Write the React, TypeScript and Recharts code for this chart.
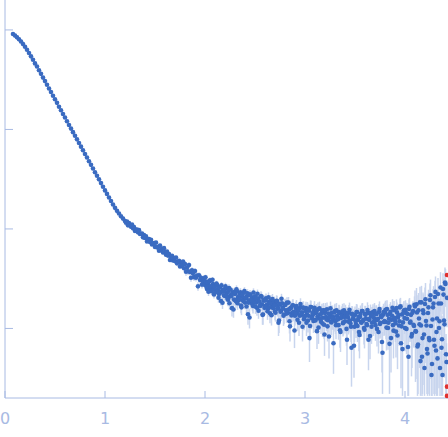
import { ScatterChart, Scatter, XAxis, YAxis, ErrorBar } from "recharts";

// scattering vector q (nm^-1) and intensity (x 1e-3, arbitrary units)
const qLow = [
  0.08, 0.1, 0.12, 0.14, 0.16, 0.18, 0.2, 0.22, 0.24, 0.26, 0.28, 0.3,
  0.32, 0.34, 0.36, 0.38, 0.4, 0.42, 0.44, 0.46, 0.48, 0.5,
  0.52, 0.54, 0.56, 0.58, 0.6, 0.62, 0.64, 0.66, 0.68, 0.7,
  0.72, 0.74, 0.76, 0.78, 0.8, 0.82, 0.84, 0.86, 0.88, 0.9,
  0.92, 0.94, 0.96, 0.98, 1, 1.02, 1.04, 1.06, 1.08, 1.1,
  1.12, 1.14, 1.16, 1.18,
];
const iLow = [
  912, 880, 845, 806, 766, 723, 678, 632, 587, 543, 501, 461,
  429, 394, 362, 332, 306, 281, 258, 238, 218, 201,
  185, 169, 156, 143, 132, 121, 111, 102, 94, 86.5,
  79.5, 73, 67.2, 61.7, 56.7, 52.2, 47.9, 44.1, 40.5, 37.2,
  34.2, 31.5, 28.9, 26.6, 24.4, 22.5, 20.7, 19.1, 17.6, 16.3,
  15.2, 14.3, 13.4, 12.7,
];
const eLow = [
  3.6, 3.5, 3.4, 3.2, 3.1, 2.9, 2.7, 2.5, 2.3, 2.2, 2.0, 1.8,
  1.7, 1.6, 1.4, 1.3, 1.2, 1.1, 1.0, 0.95, 0.87, 0.8,
  0.74, 0.68, 0.62, 0.57, 0.53, 0.49, 0.45, 0.42, 0.38, 0.35,
  0.33, 0.3, 0.28, 0.26, 0.24, 0.23, 0.21, 0.2, 0.19, 0.18,
  0.17, 0.16, 0.15, 0.15, 0.14, 0.14, 0.13, 0.13, 0.13, 0.12,
  0.12, 0.12, 0.12, 0.12,
];

const qTail = [
  1.2, 1.21, 1.22, 1.23, 1.24, 1.25, 1.26, 1.27, 1.28, 1.29,
  1.3, 1.31, 1.32, 1.33, 1.34, 1.35, 1.36, 1.37, 1.38, 1.39,
  1.4, 1.41, 1.42, 1.43, 1.44, 1.45, 1.46, 1.47, 1.48, 1.49,
  1.5, 1.51, 1.52, 1.53, 1.54, 1.55, 1.56, 1.57, 1.58, 1.59,
  1.6, 1.61, 1.62, 1.63, 1.64, 1.65, 1.66, 1.67, 1.68, 1.69,
  1.7, 1.71, 1.72, 1.73, 1.74, 1.75, 1.76, 1.77, 1.78, 1.79,
  1.8, 1.81, 1.82, 1.83, 1.84, 1.85, 1.86, 1.87, 1.88, 1.89,
  1.9, 1.91, 1.92, 1.93, 1.94, 1.95, 1.96, 1.97, 1.98, 1.99,
  2.0, 2.01, 2.02, 2.03, 2.04, 2.05, 2.06, 2.07, 2.08, 2.09,
  2.1, 2.11, 2.12, 2.13, 2.14, 2.15, 2.16, 2.17, 2.18, 2.19,
  2.2, 2.21, 2.22, 2.23, 2.24, 2.25, 2.26, 2.27, 2.28, 2.29,
  2.3, 2.31, 2.32, 2.33, 2.34, 2.35, 2.36, 2.37, 2.38, 2.39,
  2.4, 2.41, 2.42, 2.43, 2.44, 2.45, 2.46, 2.47, 2.48, 2.49,
  2.5, 2.51, 2.52, 2.53, 2.54, 2.55, 2.56, 2.57, 2.58, 2.59,
  2.6, 2.61, 2.62, 2.63, 2.64, 2.65, 2.66, 2.67, 2.68, 2.69,
  2.7, 2.71, 2.72, 2.73, 2.74, 2.75, 2.76, 2.77, 2.78, 2.79,
  2.8, 2.81, 2.82, 2.83, 2.84, 2.85, 2.86, 2.87, 2.88, 2.89,
  2.9, 2.91, 2.92, 2.93, 2.94, 2.95, 2.96, 2.97, 2.98, 2.99,
  3.0, 3.01, 3.02, 3.03, 3.04, 3.05, 3.06, 3.07, 3.08, 3.09,
  3.1, 3.11, 3.12, 3.13, 3.14, 3.15, 3.16, 3.17, 3.18, 3.19,
  3.2, 3.21, 3.22, 3.23, 3.24, 3.25, 3.26, 3.27, 3.28, 3.29,
  3.3, 3.31, 3.32, 3.33, 3.34, 3.35, 3.36, 3.37, 3.38, 3.39,
  3.4, 3.41, 3.42, 3.43, 3.44, 3.45, 3.46, 3.47, 3.48, 3.49,
  3.5, 3.51, 3.52, 3.53, 3.54, 3.55, 3.56, 3.57, 3.58, 3.59,
  3.6, 3.61, 3.62, 3.63, 3.64, 3.65, 3.66, 3.67, 3.68, 3.69,
  3.7, 3.71, 3.72, 3.73, 3.74, 3.75, 3.76, 3.77, 3.78, 3.79,
  3.8, 3.81, 3.82, 3.83, 3.84, 3.85, 3.86, 3.87, 3.88, 3.89,
  3.9, 3.91, 3.92, 3.93, 3.94, 3.95, 3.96, 3.97, 3.98, 3.99,
  4.0, 4.01, 4.02, 4.03, 4.04, 4.05, 4.06, 4.07, 4.08, 4.09,
  4.1, 4.11, 4.12, 4.13, 4.14, 4.15, 4.16, 4.17, 4.18, 4.19,
  4.2, 4.21, 4.22, 4.23, 4.24, 4.25, 4.26, 4.27, 4.28, 4.29,
  4.3, 4.31, 4.32, 4.33, 4.34, 4.35, 4.36, 4.37, 4.38, 4.39,
  4.4, 4.41, 4.42,
];
const iTail = [
  12.04, 11.54, 11.87, 10.87, 11.44, 10.97, 10.52, 11.07, 10.14, 10.42,
  9.55, 9.82, 9.86, 9.24, 9.73, 8.91, 8.95, 9.0, 8.23, 8.66,
  8.12, 8.42, 7.47, 7.86, 7.9, 7.4, 7.79, 6.97, 7.17, 7.2,
  6.59, 7.28, 6.53, 6.57, 6.04, 6.83, 6.12, 6.31, 5.79, 6.41,
  5.87, 5.5, 5.93, 5.4, 5.58, 4.88, 5.25, 5.38, 4.83, 5.09,
  4.77, 5.16, 4.51, 4.65, 4.78, 4.2, 4.53, 4.26, 4.71, 4.03,
  4.45, 3.71, 4.09, 3.76, 4.33, 3.7, 3.23, 3.83, 3.58, 3.28,
  3.78, 3.23, 3.4, 2.65, 3.43, 3.07, 3.23, 2.76, 2.97, 3.2,
  2.74, 2.96, 2.49, 2.83, 2.67, 3.04, 2.49, 2.64, 2.8, 2.2,
  2.67, 2.41, 2.74, 2.41, 2.22, 2.58, 1.89, 2.35, 2.44, 2.15,
  2.49, 2.11, 2.3, 1.94, 2.54, 2.1, 2.18, 1.6, 2.31, 1.95,
  2.22, 1.88, 2.35, 2.04, 1.93, 2.26, 1.7, 2.09, 1.93, 2.31,
  1.82, 2.01, 2.12, 1.39, 1.92, 2.2, 1.82, 2.03, 1.68, 1.97,
  2.1, 1.81, 1.61, 2.01, 1.87, 1.69, 2.12, 1.75, 1.38, 1.9,
  1.68, 2.01, 1.74, 1.58, 1.85, 1.42, 1.91, 1.73, 1.61, 1.84,
  1.48, 1.73, 1.89, 1.6, 1.2, 1.73, 1.5, 1.79, 1.59, 1.38,
  1.72, 1.52, 1.82, 1.43, 1.56, 1.05, 1.61, 1.43, 1.71, 1.47,
  1.34, 1.6, 1.42, 1.51, 1.14, 1.61, 1.36, 1.45, 1.62, 1.24,
  1.34, 1.6, 1.39, 1.2, 1.51, 1.06, 1.64, 1.32, 1.38, 1.51,
  1.22, 1.43, 0.94, 1.56, 1.26, 1.38, 1.17, 1.51, 1.28, 1.09,
  1.43, 1.3, 1.56, 1.21, 0.83, 1.38, 1.17, 1.44, 1.31, 1.22,
  1.5, 1.08, 1.33, 1.24, 1.46, 0.96, 1.27, 1.39, 1.13, 1.52,
  1.18, 1.35, 0.77, 1.29, 1.44, 1.2, 1.04, 1.4, 1.25, 0.67,
  1.37, 1.11, 1.46, 1.22, 0.92, 1.3, 1.16, 1.5, 1.19, 1.01,
  1.4, 1.25, 1.08, 1.43, 1.22, 0.84, 1.34, 1.14, 1.46, 1.27,
  1.19, 1.4, 0.99, 1.25, 1.46, 1.11, 1.34, 0.73, 1.37, 1.16,
  1.46, 1.16, 1.57, 1.01, 1.25, 1.4, 0.8, 1.34, 1.08, 1.53,
  1.2, 0.93, 1.45, 1.29, 1.07, 1.63, 0.71, 1.38, 1.15, 1.52,
  1.01, 1.43, 1.25, 0.65, 1.57, 1.14, 1.37, 0.88, 1.5, 1.06,
  1.66, 0.93, 1.45, 0.69, 1.26, 1.83, 1.07, 0.52, 1.52, 0.87,
  1.76, 1.19, 0.62, 1.43, 0.8, 1.93, 1.06, 0.44, 1.63, 0.77,
  2.07, 0.6, 1.26, 2.22, 1.01, 0.4, 1.78, 0.78, 2.49, 1.2,
  2.9, 0.55, 2.03,
];
const eTail = [
  0.36, 0.35, 0.35, 0.34, 0.34, 0.33, 0.32, 0.32, 0.31, 0.31,
  0.3, 0.29, 0.29, 0.28, 0.28, 0.27, 0.27, 0.26, 0.26, 0.25,
  0.25, 0.24, 0.24, 0.24, 0.23, 0.23, 0.22, 0.22, 0.22, 0.21,
  0.31, 0.31, 0.3, 0.3, 0.29, 0.29, 0.28, 0.28, 0.27, 0.27,
  0.26, 0.26, 0.25, 0.25, 0.24, 0.24, 0.24, 0.23, 0.23, 0.22,
  0.22, 0.22, 0.21, 0.21, 0.2, 0.2, 0.2, 0.19, 0.19, 0.19,
  0.33, 0.32, 0.32, 0.31, 0.3, 0.3, 0.29, 0.29, 0.28, 0.28,
  0.27, 0.27, 0.26, 0.26, 0.25, 0.25, 0.25, 0.24, 0.24, 0.23,
  0.23, 0.23, 0.22, 0.22, 0.22, 0.21, 0.21, 0.21, 0.21, 0.2,
  0.2, 0.2, 0.2, 0.2, 0.19, 0.19, 0.19, 0.19, 0.19, 0.19,
  0.24, 0.26, 0.25, 0.27, 0.24, 0.25, 0.26, 0.28, 0.24, 0.25,
  0.25, 0.27, 0.24, 0.25, 0.26, 0.24, 0.28, 0.25, 0.26, 0.24,
  0.26, 0.25, 0.24, 0.3, 0.25, 0.24, 0.26, 0.25, 0.27, 0.24,
  0.25, 0.26, 0.27, 0.24, 0.25, 0.26, 0.24, 0.25, 0.29, 0.25,
  0.26, 0.24, 0.25, 0.27, 0.25, 0.29, 0.24, 0.26, 0.26, 0.25,
  0.27, 0.25, 0.24, 0.26, 0.3, 0.25, 0.27, 0.25, 0.26, 0.28,
  0.25, 0.26, 0.24, 0.27, 0.26, 0.31, 0.25, 0.27, 0.25, 0.26,
  0.27, 0.25, 0.26, 0.25, 0.3, 0.25, 0.27, 0.26, 0.25, 0.28,
  0.27, 0.26, 0.28, 0.29, 0.26, 0.31, 0.26, 0.28, 0.27, 0.26,
  0.28, 0.27, 0.32, 0.26, 0.28, 0.27, 0.29, 0.26, 0.28, 0.3,
  0.27, 0.28, 0.26, 0.29, 0.33, 0.27, 0.29, 0.27, 0.28, 0.29,
  0.27, 0.3, 0.28, 0.29, 0.27, 0.32, 0.28, 0.28, 0.3, 0.27,
  0.29, 0.28, 0.34, 0.29, 0.28, 0.29, 0.31, 0.28, 0.29, 0.35,
  0.29, 0.31, 0.28, 0.3, 0.33, 0.29, 0.31, 0.28, 0.3, 0.32,
  0.29, 0.3, 0.32, 0.29, 0.3, 0.35, 0.3, 0.31, 0.29, 0.3,
  0.31, 0.3, 0.33, 0.31, 0.3, 0.32, 0.31, 0.37, 0.3, 0.32,
  0.36, 0.38, 0.35, 0.4, 0.37, 0.36, 0.44, 0.37, 0.39, 0.36,
  0.38, 0.42, 0.37, 0.38, 0.4, 0.36, 0.46, 0.38, 0.4, 0.37,
  0.42, 0.38, 0.4, 0.44, 0.38, 0.41, 0.39, 0.48, 0.38, 0.42,
  0.75, 0.62, 0.7, 0.47, 0.72, 0.8, 0.66, 0.31, 0.78, 0.6,
  0.82, 0.74, 0.4, 0.8, 0.58, 0.9, 0.75, 0.23, 0.85, 0.55,
  0.95, 0.38, 0.8, 1.0, 0.76, 0.19, 0.92, 0.56, 1.1, 0.85,
  1.2, 0.33, 1.0,
];

// the interleaved half-step frames of the noisy high-q part
const qMid = [
  2.005, 2.015, 2.025, 2.035, 2.045, 2.055, 2.065, 2.075, 2.085, 2.095,
  2.105, 2.115, 2.125, 2.135, 2.145, 2.155, 2.165, 2.175, 2.185, 2.195,
  2.205, 2.215, 2.225, 2.235, 2.245, 2.255, 2.265, 2.275, 2.285, 2.295,
  2.305, 2.315, 2.325, 2.335, 2.345, 2.355, 2.365, 2.375, 2.385, 2.395,
  2.405, 2.415, 2.425, 2.435, 2.445, 2.455, 2.465, 2.475, 2.485, 2.495,
  2.505, 2.515, 2.525, 2.535, 2.545, 2.555, 2.565, 2.575, 2.585, 2.595,
  2.605, 2.615, 2.625, 2.635, 2.645, 2.655, 2.665, 2.675, 2.685, 2.695,
  2.705, 2.715, 2.725, 2.735, 2.745, 2.755, 2.765, 2.775, 2.785, 2.795,
  2.805, 2.815, 2.825, 2.835, 2.845, 2.855, 2.865, 2.875, 2.885, 2.895,
  2.905, 2.915, 2.925, 2.935, 2.945, 2.955, 2.965, 2.975, 2.985, 2.995,
  3.005, 3.015, 3.025, 3.035, 3.045, 3.055, 3.065, 3.075, 3.085, 3.095,
  3.105, 3.115, 3.125, 3.135, 3.145, 3.155, 3.165, 3.175, 3.185, 3.195,
  3.205, 3.215, 3.225, 3.235, 3.245, 3.255, 3.265, 3.275, 3.285, 3.295,
  3.305, 3.315, 3.325, 3.335, 3.345, 3.355, 3.365, 3.375, 3.385, 3.395,
  3.405, 3.415, 3.425, 3.435, 3.445, 3.455, 3.465, 3.475, 3.485, 3.495,
  3.505, 3.515, 3.525, 3.535, 3.545, 3.555, 3.565, 3.575, 3.585, 3.595,
  3.605, 3.615, 3.625, 3.635, 3.645, 3.655, 3.665, 3.675, 3.685, 3.695,
  3.705, 3.715, 3.725, 3.735, 3.745, 3.755, 3.765, 3.775, 3.785, 3.795,
  3.805, 3.815, 3.825, 3.835, 3.845, 3.855, 3.865, 3.875, 3.885, 3.895,
  3.905, 3.915, 3.925, 3.935, 3.945, 3.955, 3.965, 3.975, 3.985, 3.995,
  4.005, 4.015, 4.025, 4.035, 4.045, 4.055, 4.065, 4.075, 4.085, 4.095,
  4.105, 4.115, 4.125, 4.135, 4.145, 4.155, 4.165, 4.175, 4.185, 4.195,
  4.205, 4.215, 4.225, 4.235, 4.245, 4.255, 4.265, 4.275, 4.285, 4.295,
  4.305, 4.315, 4.325, 4.335, 4.345, 4.355, 4.365, 4.375, 4.385, 4.395,
  4.405, 4.415,
];
const iMid = [
  3.27, 2.63, 2.92, 2.34, 2.98, 2.63, 2.37, 3.09, 2.48, 2.63,
  2.31, 2.82, 2.48, 2.04, 2.6, 2.29, 2.72, 1.81, 2.37, 2.13,
  2.66, 2.15, 1.99, 2.38, 1.79, 2.46, 2.12, 2.26, 1.55, 2.33,
  1.92, 2.48, 1.79, 2.11, 1.97, 2.31, 1.63, 2.21, 1.88, 2.37,
  2.05, 1.66, 2.25, 1.82, 1.29, 2.15, 1.91, 1.74, 2.3, 1.87,
  1.65, 1.99, 2.23, 1.51, 1.86, 1.69, 2.08, 1.37, 1.94, 1.61,
  1.92, 1.67, 1.49, 2.06, 1.63, 1.79, 1.36, 1.97, 1.6, 1.71,
  1.44, 1.9, 1.58, 1.14, 1.77, 1.47, 1.99, 1.61, 1.34, 1.73,
  1.74, 1.41, 1.52, 1.82, 1.18, 1.59, 1.35, 1.7, 1.45, 0.955,
  1.4, 1.68, 1.22, 1.53, 1.34, 1.76, 1.43, 1.04, 1.61, 1.3,
  1.5, 1.14, 1.57, 1.34, 0.8, 1.64, 1.27, 1.43, 1.19, 1.61,
  1.2, 1.48, 1.32, 1.02, 1.59, 1.26, 1.41, 1.12, 1.52, 0.87,
  1.52, 1.23, 1.05, 1.41, 1.29, 1.59, 1.15, 1.26, 0.71, 1.45,
  1.18, 1.52, 1.24, 1.08, 1.42, 0.92, 1.33, 1.49, 1.15, 1.3,
  1.44, 0.99, 1.34, 1.17, 1.54, 1.12, 0.64, 1.37, 1.25, 1.04,
  1.19, 1.46, 1.06, 1.3, 0.86, 1.4, 1.14, 1.5, 1.22, 0.97,
  1.37, 1.11, 1.53, 0.77, 1.25, 1.43, 1.04, 1.34, 1.16, 1.5,
  1.08, 1.4, 1.22, 0.92, 1.57, 1.14, 1.3, 0.57, 1.46, 1.19,
  1.54, 1.02, 1.37, 1.14, 0.7, 1.47, 1.22, 1.61, 0.95, 1.28,
  1.13, 1.6, 0.85, 1.36, 1.18, 1.67, 1.05, 0.62, 1.45, 1.27,
  1.54, 0.99, 1.4, 0.52, 1.65, 1.17, 0.83, 1.44, 1.09, 1.73,
  0.94, 1.75, 0.66, 1.52, 1.1, 0.47, 1.83, 0.8, 1.42, 0.4,
  1.96, 1.07, 0.56, 1.63, 0.76, 2.15, 0.34, 1.23, 1.78, 0.67,
  2.33, 0.92, 0.5, 1.78, 1.18, 2.58, 0.64, 0.34, 2.19, 1.1,
  2.8, 0.46,
];
const eMid = [
  0.2, 0.21, 0.2, 0.22, 0.2, 0.21, 0.22, 0.2, 0.21, 0.21,
  0.21, 0.2, 0.21, 0.23, 0.2, 0.21, 0.2, 0.24, 0.21, 0.22,
  0.22, 0.23, 0.24, 0.22, 0.25, 0.22, 0.23, 0.22, 0.27, 0.23,
  0.24, 0.23, 0.25, 0.24, 0.24, 0.23, 0.27, 0.24, 0.25, 0.23,
  0.24, 0.26, 0.23, 0.25, 0.29, 0.24, 0.25, 0.25, 0.23, 0.25,
  0.25, 0.24, 0.23, 0.26, 0.25, 0.26, 0.24, 0.28, 0.25, 0.26,
  0.25, 0.26, 0.27, 0.24, 0.26, 0.25, 0.29, 0.25, 0.26, 0.26,
  0.27, 0.25, 0.26, 0.3, 0.25, 0.27, 0.24, 0.26, 0.28, 0.25,
  0.25, 0.27, 0.26, 0.25, 0.29, 0.26, 0.27, 0.25, 0.27, 0.32,
  0.26, 0.25, 0.28, 0.26, 0.27, 0.25, 0.27, 0.3, 0.26, 0.28,
  0.27, 0.3, 0.27, 0.28, 0.34, 0.27, 0.28, 0.28, 0.29, 0.27,
  0.29, 0.28, 0.28, 0.32, 0.27, 0.29, 0.28, 0.3, 0.28, 0.34,
  0.28, 0.29, 0.31, 0.28, 0.29, 0.27, 0.3, 0.29, 0.36, 0.28,
  0.3, 0.28, 0.29, 0.31, 0.29, 0.34, 0.29, 0.28, 0.3, 0.29,
  0.29, 0.32, 0.29, 0.3, 0.28, 0.31, 0.38, 0.29, 0.3, 0.31,
  0.31, 0.3, 0.33, 0.31, 0.36, 0.3, 0.32, 0.3, 0.31, 0.34,
  0.31, 0.33, 0.3, 0.39, 0.32, 0.31, 0.34, 0.31, 0.32, 0.3,
  0.33, 0.31, 0.32, 0.36, 0.3, 0.33, 0.32, 0.35, 0.31, 0.33,
  0.36, 0.42, 0.37, 0.4, 0.48, 0.37, 0.39, 0.36, 0.45, 0.38,
  0.4, 0.36, 0.46, 0.38, 0.4, 0.36, 0.42, 0.41, 0.38, 0.39,
  0.38, 0.44, 0.39, 0.31, 0.37, 0.41, 0.5, 0.38, 0.43, 0.37,
  0.65, 0.8, 0.45, 0.75, 0.7, 0.26, 0.85, 0.58, 0.78, 0.19,
  0.9, 0.72, 0.35, 0.82, 0.55, 0.95, 0.13, 0.8, 0.88, 0.46,
  1.0, 0.71, 0.29, 0.86, 0.8, 1.1, 0.43, 0.13, 0.95, 0.78,
  1.15, 0.25,
];

// points flagged as outliers (drawn in red)
const qRejected = [4.42, 4.42, 4.42];
const iRejected = [3.44, 0.26, 0.21];

const xTicks = [0, 1, 2, 3, 4];
const yTicks = [1, 10, 100, 1000];

const qAll = [...qLow, ...qTail, ...qMid];
const intensity = [...iLow, ...iTail, ...iMid];
const sigma = [...eLow, ...eTail, ...eMid];
const points = qAll.map((q, k) => ({ q, I: intensity[k], err: sigma[k] }));
const rejected = qRejected.map((q, k) => ({ q, I: iRejected[k] }));

const AXIS = "#a8bae3";

const BlueDot = (props: any) => (
  <circle cx={props.cx} cy={props.cy} r={2.3} fill="#3a6bc1" />
);
const RedDot = (props: any) => (
  <circle cx={props.cx} cy={props.cy} r={2.3} fill="#e0312f" />
);
const NoLabel = () => <g />;

export default function App() {
  return (
    <div style={{ position: "absolute", left: 0, top: 0, width: 448, height: 437 }}>
      <ScatterChart width={448} height={437} margin={{ top: 0, right: 0, bottom: 0, left: 4 }}>
        <XAxis
          type="number"
          dataKey="q"
          domain={[0, 4.43]}
          ticks={xTicks}
          interval={0}
          height={39}
          tickSize={-7}
          tickMargin={22}
          stroke={AXIS}
          tick={{ fill: AXIS, fontSize: 16, fontFamily: "DejaVu Sans" }}
        />
        <YAxis
          type="number"
          dataKey="I"
          scale="log"
          domain={[0.2, 2000]}
          ticks={yTicks}
          interval={0}
          width={1}
          tickSize={-8}
          tick={NoLabel}
          stroke={AXIS}
        />
        <Scatter data={points} shape={BlueDot} isAnimationActive={false}>
          <ErrorBar
            dataKey="err"
            direction="y"
            width={0}
            stroke="#c8d5ee"
            strokeWidth={1.5}
            isAnimationActive={false}
          />
        </Scatter>
        <Scatter data={rejected} shape={RedDot} isAnimationActive={false} />
      </ScatterChart>
    </div>
  );
}
